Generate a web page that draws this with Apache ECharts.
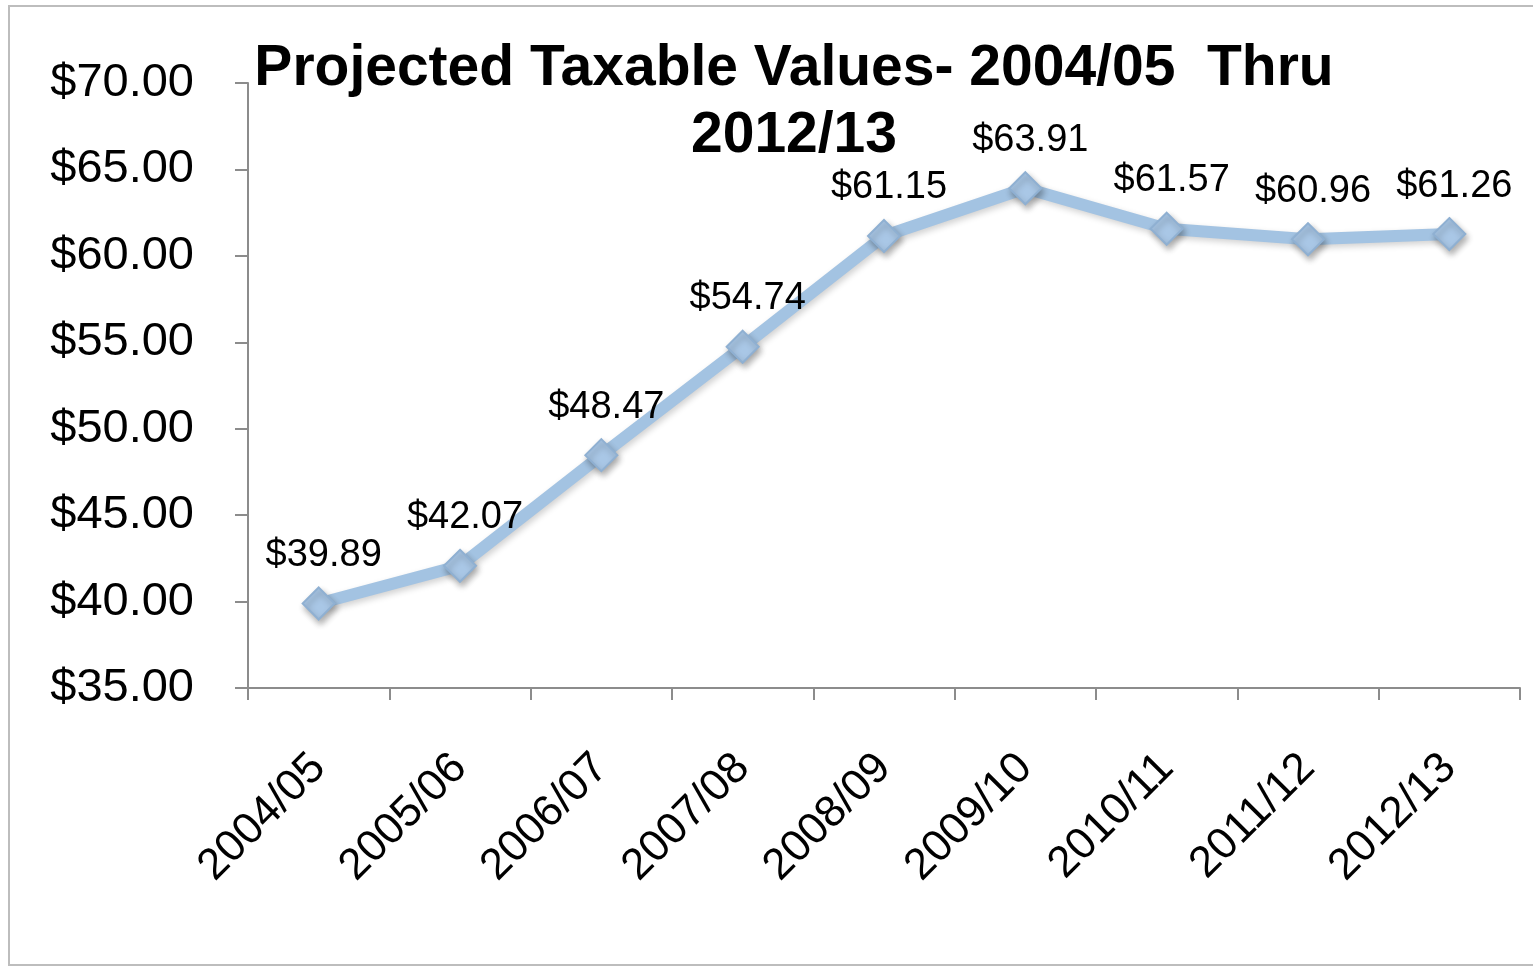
<!DOCTYPE html>
<html>
<head>
<meta charset="utf-8">
<script src="https://cdn.jsdelivr.net/npm/echarts@6/dist/echarts.min.js"></script>
<style>
  html, body { margin: 0; padding: 0; background: #ffffff; }
  #chart { width: 1533px; height: 968px; }
</style>
</head>
<body>
<div id="chart"></div>
<script>
// Fiscal years and projected taxable values (in billions of dollars)
const fiscalYears = ['2004/05', '2005/06', '2006/07', '2007/08', '2008/09', '2009/10', '2010/11', '2011/12', '2012/13'];
const taxableValues = [39.89, 42.07, 48.47, 54.74, 61.15, 63.91, 61.57, 60.96, 61.26];
const chartTitle = 'Projected Taxable Values- 2004/05  Thru\n2012/13';

const FONT = '"Liberation Sans", Arial, Helvetica, sans-serif';
const money = v => '$' + Number(v).toFixed(2);

const chart = echarts.init(document.getElementById('chart'), null, { renderer: 'canvas' });

chart.setOption({
  backgroundColor: '#ffffff',
  animation: false,
  title: {
    text: chartTitle,
    left: 789,
    top: 31,
    textAlign: 'center',
    textStyle: {
      fontFamily: FONT,
      fontWeight: 'bold',
      fontSize: 57,
      lineHeight: 67,
      color: '#000000'
    }
  },
  graphic: [{
    type: 'rect',
    shape: { x: 9, y: 6, width: 1540, height: 959 },
    style: { fill: 'none', stroke: '#bdbdbd', lineWidth: 2 },
    silent: true,
    z: -1
  }],
  grid: { left: 248, right: 13, top: 83, bottom: 280 },
  xAxis: {
    type: 'category',
    data: fiscalYears,
    boundaryGap: true,
    axisLine: { show: true, lineStyle: { color: '#8c8c8c', width: 2 } },
    axisTick: { show: true, length: 12, alignWithLabel: false, lineStyle: { color: '#8c8c8c', width: 2 } },
    axisLabel: {
      rotate: 45,
      margin: 73,
      interval: 0,
      fontFamily: FONT,
      fontSize: 44,
      color: '#000000'
    },
    splitLine: { show: false }
  },
  yAxis: {
    type: 'value',
    min: 35,
    max: 70,
    interval: 5,
    axisLine: { show: true, lineStyle: { color: '#8c8c8c', width: 2 } },
    axisTick: { show: true, length: 13, lineStyle: { color: '#8c8c8c', width: 2 } },
    axisLabel: {
      margin: 54,
      fontFamily: FONT,
      fontSize: 47,
      color: '#000000',
      formatter: money
    },
    splitLine: { show: false }
  },
  series: [{
    type: 'line',
    data: taxableValues,
    symbol: 'diamond',
    symbolSize: 32,
    lineStyle: {
      color: '#a3c3e2',
      width: 12,
      shadowColor: 'rgba(0,0,0,0.18)',
      shadowBlur: 6,
      shadowOffsetX: 2,
      shadowOffsetY: 3
    },
    itemStyle: {
      color: '#a9c7e6',
      borderColor: '#8fb0d2',
      borderWidth: 2,
      shadowColor: 'rgba(0,0,0,0.3)',
      shadowBlur: 6,
      shadowOffsetX: 2,
      shadowOffsetY: 4
    },
    label: {
      show: true,
      position: 'top',
      distance: 12,
      offset: [5, 0],
      fontFamily: FONT,
      fontSize: 38,
      color: '#000000',
      formatter: p => money(p.value)
    },
    z: 3
  }]
});
</script>
</body>
</html>
